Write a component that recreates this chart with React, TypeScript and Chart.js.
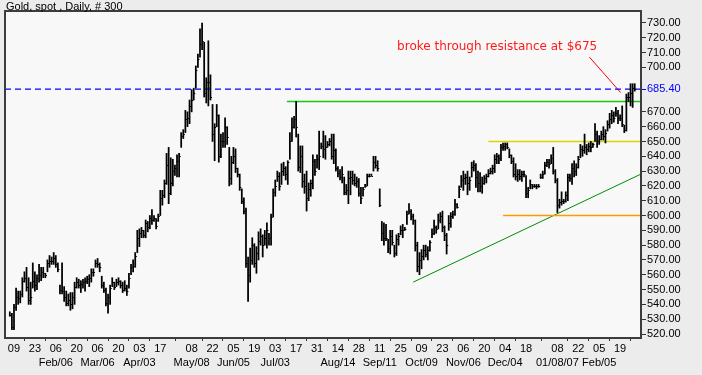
import React, { useEffect, useRef } from "react";
import { Chart, registerables } from "chart.js";
Chart.register(...registerables);

const chartTitle = "Gold, spot , Daily, # 300";

const highs = [
  535, 534, 540, 551, 549, 549, 558, 562, 565, 558,
  555, 568, 562, 560, 567, 565, 565, 561, 570, 573,
  572, 575, 573, 568, 553, 568, 552, 549, 547, 548,
  548, 555, 558, 557, 556, 557, 558, 559, 560, 564,
  564, 570, 571, 568, 559, 555, 551, 547, 553, 558,
  555, 557, 558, 556, 555, 556, 553, 561, 567, 570,
  575, 590, 591, 592, 590, 597, 596, 600, 604, 600,
  598, 601, 617, 617, 624, 642, 646, 639, 638, 634,
  641, 642, 656, 658, 671, 670, 678, 685, 686, 701,
  709, 726, 730, 717, 693, 718, 695, 675, 662, 675,
  668, 655, 656, 666, 660, 646, 640, 646, 645, 632,
  628, 618, 612, 605, 572, 578, 585, 581, 579, 589,
  591, 587, 590, 595, 588, 601, 618, 624, 630, 629,
  635, 636, 633, 637, 656, 666, 667, 677, 655, 647,
  647, 628, 630, 622, 624, 641, 638, 641, 657, 649,
  657, 654, 650, 652, 655, 655, 645, 633, 631, 633,
  626, 621, 630, 630, 630, 628, 626, 625, 619, 619,
  621, 628, 628, 628, 640, 640, 637, 618, 596, 595,
  594, 584, 590, 590, 580, 587, 588, 593, 594, 592,
  603, 608, 604, 601, 597, 582, 575, 577, 580, 580,
  579, 583, 591, 597, 593, 601, 602, 603, 593, 588,
  600, 602, 603, 611, 608, 620, 627, 630, 628, 630,
  626, 636, 637, 635, 630, 629, 626, 627, 628, 631,
  632, 634, 641, 642, 641, 648, 649, 649, 649, 645,
  641, 639, 635, 631, 631, 630, 630, 627, 619, 624,
  621, 621, 621, 621, 628, 630, 636, 638, 638, 641,
  646, 631, 625, 611, 616, 611, 616, 628, 628, 635,
  637, 635, 640, 648, 647, 655, 648, 649, 650, 649,
  662, 657, 654, 657, 660, 658, 664, 669, 671, 670,
  673, 671, 668, 674, 661, 682, 683, 689, 689, 689,
];

const lows = [
  532, 523, 523, 536, 540, 541, 545, 555, 549, 540,
  540, 551, 549, 550, 555, 556, 558, 558, 562, 565,
  567, 567, 565, 562, 547, 547, 542, 539, 539, 536,
  537, 540, 551, 551, 548, 551, 549, 554, 552, 555,
  559, 565, 565, 562, 551, 548, 539, 534, 540, 552,
  550, 552, 553, 551, 548, 549, 546, 551, 560, 562,
  565, 575, 579, 585, 585, 585, 589, 591, 594, 596,
  591, 596, 600, 607, 612, 621, 608, 614, 620, 627,
  626, 626, 646, 652, 656, 660, 662, 670, 678, 686,
  700, 707, 712, 680, 676, 674, 678, 650, 637, 660,
  636, 639, 646, 646, 648, 620, 621, 635, 629, 626,
  617, 608, 601, 565, 542, 555, 567, 565, 561, 570,
  580, 572, 580, 578, 580, 580, 599, 613, 623, 617,
  621, 627, 624, 621, 638, 650, 659, 653, 630, 629,
  619, 615, 603, 610, 613, 618, 627, 632, 631, 645,
  639, 638, 646, 647, 638, 635, 630, 626, 624, 622,
  614, 614, 608, 614, 621, 620, 619, 613, 608, 613,
  619, 620, 626, 627, 630, 632, 630, 606, 583, 580,
  583, 575, 574, 580, 572, 573, 580, 587, 585, 590,
  594, 601, 597, 594, 576, 562, 560, 564, 570, 572,
  570, 576, 585, 587, 588, 591, 595, 589, 583, 574,
  590, 592, 598, 600, 605, 612, 619, 617, 621, 614,
  617, 626, 630, 619, 616, 616, 615, 621, 622, 626,
  628, 628, 629, 635, 635, 637, 644, 644, 645, 639,
  635, 626, 624, 623, 624, 623, 626, 612, 612, 618,
  618, 619, 618, 619, 625, 625, 628, 633, 632, 635,
  628, 622, 602, 605, 607, 608, 609, 610, 623, 621,
  626, 627, 632, 639, 640, 642, 641, 643, 643, 646,
  650, 646, 648, 651, 651, 649, 657, 659, 662, 663,
  667, 662, 664, 660, 656, 657, 677, 674, 673, 684,
];

const closes = [
  533, 525, 538, 545, 544, 547, 556, 558, 552, 543,
  545, 556, 553, 558, 560, 562, 561, 560, 568, 569,
  569, 571, 567, 564, 550, 549, 545, 541, 543, 540,
  545, 552, 555, 553, 554, 555, 556, 557, 558, 562,
  562, 568, 567, 565, 553, 550, 541, 545, 551, 555,
  552, 555, 556, 553, 550, 551, 549, 558, 565, 566,
  573, 585, 588, 590, 587, 595, 592, 598, 597, 598,
  593, 600, 612, 614, 622, 634, 615, 622, 630, 632,
  637, 640, 654, 655, 665, 666, 674, 678, 683, 698,
  706, 716, 718, 683, 690, 690, 680, 655, 660, 668,
  640, 650, 650, 660, 653, 625, 636, 640, 632, 628,
  619, 610, 603, 568, 560, 570, 580, 568, 575, 583,
  586, 580, 585, 590, 585, 599, 616, 620, 627, 620,
  630, 632, 628, 636, 650, 660, 665, 660, 633, 640,
  623, 620, 612, 618, 622, 637, 630, 638, 640, 647,
  645, 646, 648, 650, 640, 644, 632, 629, 626, 628,
  616, 617, 625, 626, 624, 622, 623, 615, 612, 618,
  620, 627, 627, 627, 636, 634, 632, 607, 588, 585,
  585, 578, 586, 582, 575, 584, 586, 590, 590, 591,
  601, 603, 600, 597, 580, 566, 570, 573, 577, 574,
  577, 582, 588, 592, 591, 597, 600, 592, 587, 580,
  595, 600, 601, 608, 606, 618, 624, 625, 626, 622,
  624, 633, 634, 626, 622, 620, 622, 625, 627, 629,
  630, 632, 638, 640, 639, 646, 647, 648, 646, 641,
  637, 628, 627, 628, 627, 628, 628, 615, 617, 621,
  620, 620, 620, 620, 626, 628, 634, 636, 635, 639,
  630, 624, 607, 609, 610, 610, 614, 626, 625, 632,
  630, 633, 638, 645, 644, 646, 645, 647, 646, 648,
  655, 650, 652, 655, 654, 656, 662, 665, 668, 666,
  669, 666, 666, 662, 658, 680, 680, 683, 686, 685.4,
];

const lastPrice = 685.4;
const resistanceLevel = 677;
const level650 = 650;
const level600 = 600;

const yTickValues = [
  520, 530, 540, 550, 560, 570, 580, 590, 600, 610, 620, 630, 640, 650, 660, 670,
  685.4, 700, 710, 720, 730,
];

const xTickIndex = [
  2, 12, 22, 32, 42, 52, 62, 72, 87, 97, 107, 117, 127, 137, 147, 157, 167, 177,
  187, 197, 207, 217, 227, 237, 247, 262, 272, 282, 292,
];
const xTickLabels: string[][] = [
  ["09"], ["23"], ["06", "Feb/06"], ["20"], ["06", "Mar/06"], ["20"], ["03", "Apr/03"], ["17"],
  ["08", "May/08"], ["22"], ["05", "Jun/05"], ["19"], ["03", "Jul/03"], ["17"], ["31"],
  ["14", "Aug/14"], ["28"], ["11", "Sep/11"], ["25"], ["09", "Oct/09"], ["23"], ["06", "Nov/06"],
  ["20"], ["04", "Dec/04"], ["18"], ["08", "01/08/07"], ["22"], ["05", "Feb/05"], ["19"],
];

// line segments (bar index, price)
const resistanceStart = 132.6;
const level650Start = 229;
const level600Start = 236;
const trendFrom = { x: 193, y: 555 };
const trendTo = { x: 302, y: 628 };
const pointerFrom = { x: 277.3, y: 707 };
const pointerTo = { x: 292.3, y: 683 };
const noteText = "broke through resistance at $675";
const notePos = { x: 185.3, y: 713.8 };

const X_MIN = -2.3;
const X_MAX = 302;
const Y_MIN = 517.3;
const Y_MAX = 738.1;

const FONT = "'Liberation Sans', Arial, sans-serif";

export default function App() {
  const canvasRef = useRef<HTMLCanvasElement | null>(null);

  useEffect(() => {
    document.body.style.margin = "0";
    document.body.style.background = "#ECECEC";
    const canvas = canvasRef.current;
    if (!canvas) return;

    const bgPlugin = {
      id: "bgPlugin",
      beforeDraw(chart: any) {
        const { ctx, chartArea } = chart;
        ctx.save();
        ctx.fillStyle = "#ECECEC";
        ctx.fillRect(0, 0, chart.width, chart.height);
        ctx.fillStyle = "#F8F8F8";
        ctx.fillRect(chartArea.left, chartArea.top, chartArea.right - chartArea.left, chartArea.bottom - chartArea.top);
        ctx.restore();
      },
    };

    const overlayPlugin = {
      id: "overlayPlugin",
      afterDatasetsDraw(chart: any) {
        const { ctx, chartArea, scales } = chart;
        const meta = chart.getDatasetMeta(0);
        ctx.save();
        ctx.strokeStyle = "#000";
        ctx.lineWidth = 1;
        ctx.beginPath();
        meta.data.forEach((el: any, i: number) => {
          const y = Math.round(scales.y.getPixelForValue(closes[i])) + 0.5;
          ctx.moveTo(el.x, y);
          ctx.lineTo(el.x + 1.6, y);
        });
        ctx.stroke();

        // annotation text
        ctx.fillStyle = "#FF1A1A";
        ctx.font = "12px 'DejaVu Sans', sans-serif";
        ctx.textAlign = "left";
        ctx.textBaseline = "middle";
        ctx.fillText(noteText, scales.x.getPixelForValue(notePos.x), scales.y.getPixelForValue(notePos.y));

        // frame
        ctx.strokeStyle = "#3C3C3C";
        ctx.lineWidth = 2;
        ctx.strokeRect(chartArea.left, chartArea.top, chartArea.right - chartArea.left, chartArea.bottom - chartArea.top);

        // title
        ctx.fillStyle = "#000";
        ctx.font = "11px " + FONT;
        ctx.textAlign = "left";
        ctx.textBaseline = "alphabetic";
        ctx.fillText(chartTitle, 6, 9.5);
        ctx.restore();
      },
    };

    const seg = (a: { x: number; y: number }, b: { x: number; y: number }) => [a, b];

    const chart = new Chart(canvas, {
      type: "bar",
      data: {
        datasets: [
          {
            type: "bar",
            data: highs.map((h, i) => ({ x: i, y: [lows[i], h] })) as any,
            backgroundColor: "#000",
            borderWidth: 0,
            barThickness: 1.1,
            grouped: false,
          } as any,
          {
            type: "line",
            data: [{ x: X_MIN, y: lastPrice }, { x: X_MAX, y: lastPrice }],
            borderColor: "#0000FF",
            borderWidth: 1.2,
            borderDash: [6, 4],
            pointRadius: 0,
          },
          {
            type: "line",
            data: [{ x: resistanceStart, y: resistanceLevel }, { x: X_MAX, y: resistanceLevel }],
            borderColor: "#14C814",
            borderWidth: 1.5,
            pointRadius: 0,
          },
          {
            type: "line",
            data: [{ x: level650Start, y: level650 }, { x: X_MAX, y: level650 }],
            borderColor: "#D6D600",
            borderWidth: 1.5,
            pointRadius: 0,
          },
          {
            type: "line",
            data: [{ x: level600Start, y: level600 }, { x: X_MAX, y: level600 }],
            borderColor: "#FF9A00",
            borderWidth: 1.5,
            pointRadius: 0,
          },
          {
            type: "line",
            data: seg(trendFrom, trendTo),
            borderColor: "#008C00",
            borderWidth: 1,
            pointRadius: 0,
          },
          {
            type: "line",
            data: seg(pointerFrom, pointerTo),
            borderColor: "#FF0000",
            borderWidth: 1,
            pointRadius: 0,
          },
        ] as any,
      },
      options: {
        responsive: false,
        animation: false,
        events: [],
        layout: { padding: { left: 5, top: 11, right: 0, bottom: 0 } },
        plugins: { legend: { display: false }, tooltip: { enabled: false }, title: { display: false } },
        scales: {
          x: {
            type: "linear",
            min: X_MIN,
            max: X_MAX,
            offset: false,
            afterBuildTicks: (scale: any) => {
              scale.ticks = xTickIndex.map((v) => ({ value: v }));
            },
            afterFit: (scale: any) => {
              scale.height = 37;
            },
            grid: { drawOnChartArea: false, drawTicks: true, tickLength: 3, color: "#333" },
            border: { display: false },
            ticks: {
              autoSkip: false,
              maxRotation: 0,
              minRotation: 0,
              padding: 1,
              color: "#000",
              font: { family: FONT, size: 11, lineHeight: 1.27 },
              callback: (value: any) => {
                const k = xTickIndex.indexOf(Number(value));
                return k >= 0 ? xTickLabels[k] : "";
              },
            },
          },
          y: {
            type: "linear",
            position: "right",
            min: Y_MIN,
            max: Y_MAX,
            afterBuildTicks: (scale: any) => {
              scale.ticks = yTickValues.map((v) => ({ value: v }));
            },
            afterFit: (scale: any) => {
              scale.width = 61;
            },
            grid: {
              drawOnChartArea: false,
              drawTicks: true,
              tickLength: 5,
              color: (c: any) => (c.tick && c.tick.value === lastPrice ? "#0000FF" : "#333"),
            },
            border: { display: false },
            ticks: {
              autoSkip: false,
              padding: 1,
              font: { family: FONT, size: 11 },
              color: (c: any) => (c.tick && c.tick.value === lastPrice ? "#0000FF" : "#000"),
              callback: (value: any) => Number(value).toFixed(2),
            },
          },
        },
      } as any,
      plugins: [bgPlugin, overlayPlugin],
    });

    return () => chart.destroy();
  }, []);

  return (
    <div style={{ width: 702, height: 375, background: "#ECECEC" }}>
      <canvas ref={canvasRef} width={702} height={375} style={{ display: "block" }} />
    </div>
  );
}
